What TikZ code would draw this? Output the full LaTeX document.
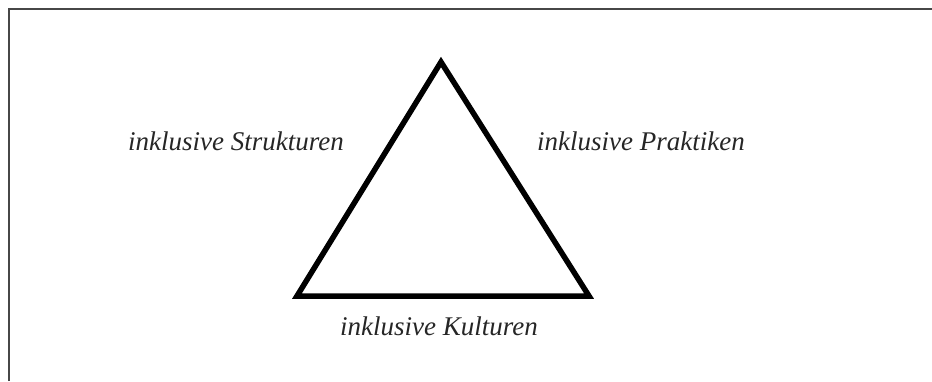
\documentclass[tikz,border=0pt]{standalone}
\usepackage{fontspec}
\setmainfont{Liberation Serif}
\begin{document}
\begin{tikzpicture}[x=1pt,y=-1pt,
  lbl/.style={font=\fontsize{27}{32}\selectfont\itshape, text=black!85, inner sep=0pt},
  tri/.style={line width=5.5pt, line join=miter}]
\useasboundingbox (0,0) rectangle (932,381);
\draw[line width=1.6pt, black!72] (9,381) -- (9,9) -- (932,9);
\coordinate (top) at (441,62);
\coordinate (bl) at (297,296);
\coordinate (br) at (589,296);
\draw[tri] (top) -- (bl) -- (br) -- cycle;
\node[lbl] (s) at (236,141) {inklusive Strukturen};
\node[lbl] (p) at (641,141) {inklusive Praktiken};
\node[lbl] (k) at (439,326) {inklusive Kulturen};
\end{tikzpicture}
\end{document}
